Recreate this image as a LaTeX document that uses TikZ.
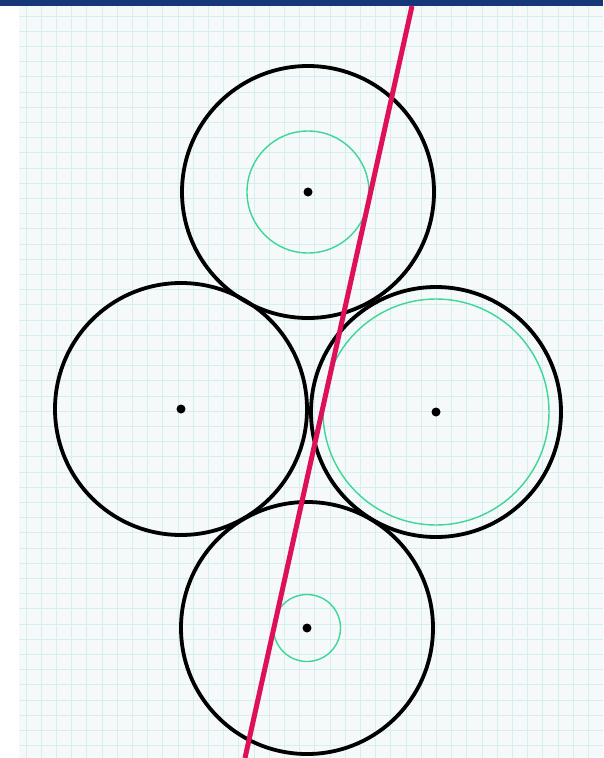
\documentclass[tikz,border=0pt]{standalone}
\definecolor{navy}{RGB}{22,56,120}
\definecolor{mint}{RGB}{60,214,150}
\definecolor{rose}{RGB}{222,16,90}
\definecolor{gridc}{RGB}{214,238,238}
\definecolor{paper}{RGB}{246,249,249}
\begin{document}
\begin{tikzpicture}[x=1pt,y=-1pt,
  gear/.style={draw=black,line width=3.8pt},
  inner/.style={draw=mint,line width=1.4pt},
  ctr/.style={fill=black},
  redline/.style={draw=rose,line width=5pt}]
\useasboundingbox (0,0) rectangle (603,758);
\fill[white] (0,0) rectangle (603,758);
\fill[paper] (19,6) rectangle (603,758);
\begin{scope}
\clip (19,6) rectangle (603,758);
\foreach \i in {0,...,40} {
  \draw[gridc,line width=0.9pt] (26+\i*15.2,6) -- (26+\i*15.2,758);
}
\foreach \j in {0,...,50} {
  \draw[gridc,line width=0.9pt] (8+\j*15.2,0) -- (8+\j*15.2,0);
  \draw[gridc,line width=0.9pt] (19,16+\j*15.2) -- (603,16+\j*15.2);
}
\end{scope}
\fill[navy] (0,0) rectangle (603,6);
% gears
\coordinate (T) at (308,192);
\coordinate (L) at (181,409);
\coordinate (R) at (436,412);
\coordinate (B) at (307,628);
\draw[gear] (T) circle (126);
\draw[gear] (L) circle (126);
\draw[gear] (R) circle (125);
\draw[gear] (B) circle (126);
\draw[inner] (T) circle (61);
\draw[inner] (R) circle (113);
\draw[inner] (B) circle (33.5);
\fill[ctr] (T) circle (4.5);
\fill[ctr] (L) circle (4.5);
\fill[ctr] (R) circle (4.5);
\fill[ctr] (B) circle (4.5);
\coordinate (P1) at (412,6);
\coordinate (P2) at (245,758);
\draw[redline] (P1) -- (P2);
\end{tikzpicture}
\end{document}
